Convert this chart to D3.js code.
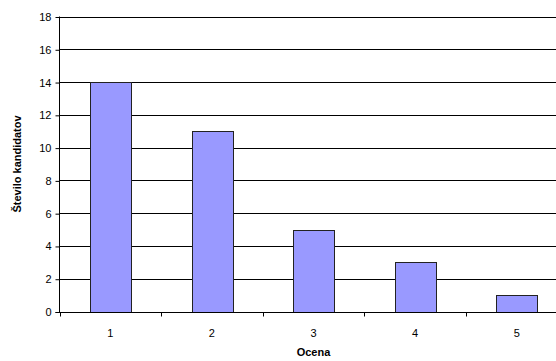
<!DOCTYPE html>
<html>
<head>
<meta charset="utf-8">
<script src="https://cdn.jsdelivr.net/npm/d3@7"></script>
<style>
  html, body { margin: 0; padding: 0; background: #fff; }
  svg { display: block; font-family: "Liberation Sans", Arial, sans-serif; }
</style>
</head>
<body>
<svg id="chart" width="556" height="361"></svg>
<script>
// Grades and the number of candidates who got each one
const grades = ["1", "2", "3", "4", "5"];
const candidates = [14, 11, 5, 3, 1];
const yTicks = [0, 2, 4, 6, 8, 10, 12, 14, 16, 18];

const svg = d3.select("#chart");
const plotLeft = 59.5, plotTop = 16.5, plotW = 508, plotH = 295;

const x = d3.scaleBand().domain(grades).range([plotLeft, plotLeft + plotW]).paddingInner(0.6).paddingOuter(0.3);
const xBand = d3.scaleBand().domain(grades).range([plotLeft, plotLeft + plotW]);
const y = d3.scaleLinear().domain([0, 18]).range([plotTop + plotH, plotTop]);

// horizontal gridlines
svg.append("g").selectAll("line").data(yTicks.filter(d => d > 0)).join("line")
  .attr("x1", plotLeft).attr("x2", plotLeft + plotW)
  .attr("y1", d => Math.round(y(d)) + 0.5).attr("y2", d => Math.round(y(d)) + 0.5)
  .attr("stroke", "#000").attr("stroke-width", 1);

// bars
svg.append("g").selectAll("rect").data(candidates).join("rect")
  .attr("x", (d, i) => Math.round(x(grades[i])) + 0.5)
  .attr("width", Math.round(x.bandwidth()))
  .attr("y", d => Math.round(y(d)) + 0.5)
  .attr("height", d => Math.round(y(0)) - Math.round(y(d)))
  .attr("fill", "#9999FF").attr("stroke", "#222").attr("stroke-width", 1);

// y axis
const yAxis = d3.axisLeft(y).tickValues(yTicks).tickSize(4).tickPadding(4).tickFormat(d3.format("d"));
const gy = svg.append("g").attr("transform", `translate(${plotLeft},0.5)`).call(yAxis);
gy.select(".domain").attr("d", `M0,${plotTop - 0.5}V${plotTop + plotH}`).attr("stroke", "#000");
gy.selectAll(".tick line").attr("stroke", "#000");
gy.selectAll("text").attr("font-size", 11).attr("fill", "#000")
  .attr("font-family", "Liberation Sans, Arial, sans-serif");

// x axis: baseline, boundary ticks, centred labels
const base = Math.round(y(0)) + 0.5;
svg.append("line").attr("x1", plotLeft - 4).attr("x2", plotLeft + plotW)
  .attr("y1", base).attr("y2", base).attr("stroke", "#000");
svg.append("g").selectAll("line").data(grades).join("line")
  .attr("x1", d => Math.round(xBand(d)) + 0.5).attr("x2", d => Math.round(xBand(d)) + 0.5)
  .attr("y1", base).attr("y2", base + 4).attr("stroke", "#000");
svg.append("g").selectAll("text").data(grades).join("text")
  .attr("x", d => xBand(d) + xBand.bandwidth() / 2)
  .attr("y", base + 24)
  .attr("text-anchor", "middle").attr("font-size", 11).attr("fill", "#000")
  .text(d => d);

// axis titles
svg.append("text").attr("x", plotLeft + plotW / 2).attr("y", 356)
  .attr("text-anchor", "middle").attr("font-size", 11).attr("font-weight", "bold")
  .text("Ocena");
svg.append("text")
  .attr("transform", `translate(21,${plotTop + plotH / 2}) rotate(-90)`)
  .attr("text-anchor", "middle").attr("font-size", 11).attr("font-weight", "bold")
  .text("Število kandidatov");
</script>
</body>
</html>
